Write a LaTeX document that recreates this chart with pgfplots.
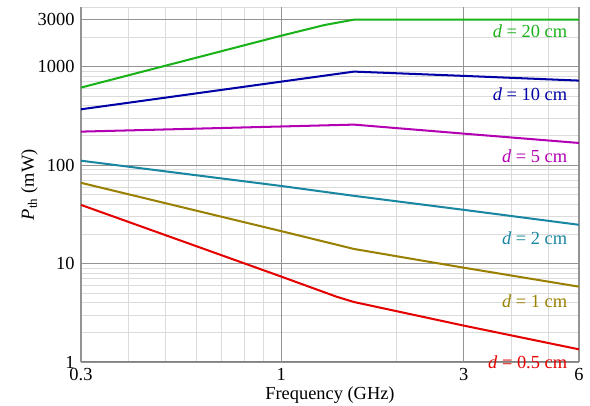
\documentclass[border=0pt]{standalone}
\usepackage{fontspec}
\setmainfont{Liberation Serif}
\usepackage{pgfplots}
\pgfplotsset{compat=1.18}
\definecolor{cgreen}{rgb}{0.1,0.7,0.1}
\definecolor{cblue}{rgb}{0,0,0.65}
\definecolor{cmag}{rgb}{0.7,0,0.7}
\definecolor{cteal}{rgb}{0.1,0.53,0.63}
\definecolor{colive}{rgb}{0.6,0.5,0}
\definecolor{cred}{rgb}{0.9,0,0}
\begin{document}
\begin{tikzpicture}
\begin{axis}[
 xmode=log, ymode=log,
 scale only axis, width=270.6pt, height=192.8pt,
 xmin=0.3, xmax=6, ymin=1, ymax=4000,
 xtick={0.4,0.5,0.6,0.7,0.8,0.9,2,4,5}, xticklabels={},
 ytick={2,3,4,5,6,7,8,9,20,30,40,50,60,70,80,90,200,300,400,500,600,700,800,900,2000,4000}, yticklabels={},
 extra x ticks={0.3,1,3,6}, extra x tick labels={0.3,1,3,6},
 extra y ticks={1,10,100,1000,3000}, extra y tick labels={1,10,100,1000,3000},
 extra x tick style={major grid style={gray!85, line width=0.6pt}},
 extra y tick style={major grid style={gray!85, line width=0.6pt}},
 grid=major,
 major grid style={gray!28, line width=0.5pt},
 axis x line*=bottom, axis y line*=left,
 axis line style={gray, line width=1pt, -},
 tick style={draw=none},
 xlabel={Frequency (GHz)}, ylabel={\textit{P}\textsubscript{th} (mW)},
 xlabel shift=-4pt, ylabel shift=-7pt,
 clip=false,
 every axis plot/.append style={line width=1.1pt},
]
\addplot[cgreen] coordinates {(0.3,613) (1,2060) (1.3,2650) (1.55,3000) (6,3000)};
\addplot[cblue] coordinates {(0.3,369) (1.55,891) (3,806) (6,722)};
\addplot[cmag] coordinates {(0.3,219) (1.55,258) (3,209) (6,168)};
\addplot[cteal] coordinates {(0.3,111) (1,61.5) (1.55,48.8) (3,35.2) (6,24.8)};
\addplot[colive] coordinates {(0.3,66.2) (1,21.4) (1.55,14.1) (3,9.1) (6,5.84)};
\addplot[cred] coordinates {(0.3,39.5) (1,7.4) (1.4,4.6) (1.55,4.08) (3,2.35) (6,1.35)};
\node[anchor=east, inner sep=0pt, text=cgreen] at (axis cs:5.6,2275) {\textit{d} = 20 cm};
\node[anchor=east, inner sep=0pt, text=cblue] at (axis cs:5.6,520) {\textit{d} = 10 cm};
\node[anchor=east, inner sep=0pt, text=cmag] at (axis cs:5.6,123) {\textit{d} = 5 cm};
\node[anchor=east, inner sep=0pt, text=cteal] at (axis cs:5.6,18.3) {\textit{d} = 2 cm};
\node[anchor=east, inner sep=0pt, text=colive] at (axis cs:5.6,4.2) {\textit{d} = 1 cm};
\node[anchor=east, inner sep=0pt, text=cred] at (axis cs:5.6,1.0) {\textit{d} = 0.5 cm};
\coordinate (SW) at (rel axis cs:0,0);
\coordinate (NE) at (rel axis cs:1,1);
\end{axis}
\pgfresetboundingbox
\path[use as bounding box] ([shift={(-44pt,-23.4pt)}]SW) rectangle ([shift={(6pt,4pt)}]NE);
\end{tikzpicture}
\end{document}
